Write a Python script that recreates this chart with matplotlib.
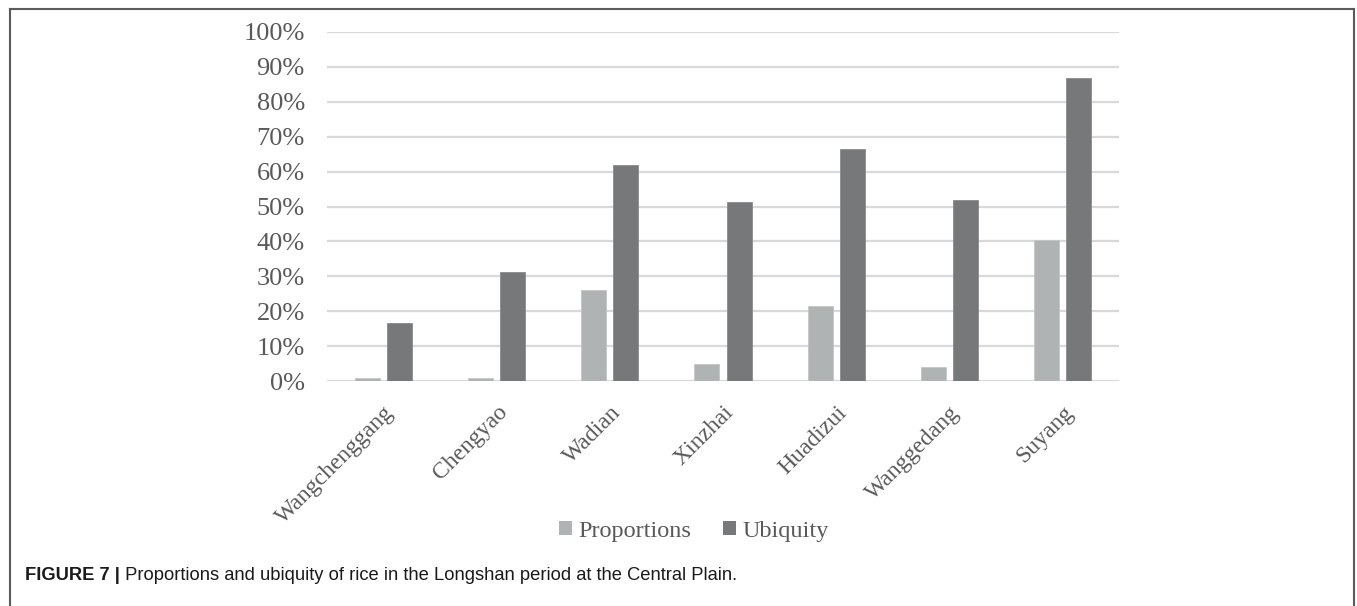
"""
Grouped bar chart of rice proportions and ubiquity at Longshan sites.
"""

import numpy as np
import matplotlib
matplotlib.use("Agg")
import matplotlib.pyplot as plt
from matplotlib.lines import Line2D
from matplotlib.patches import Patch
from matplotlib.ticker import FuncFormatter

sites = ["Wangchenggang", "Chengyao", "Wadian", "Xinzhai",
         "Huadizui", "Wanggedang", "Suyang"]
proportions = [0.9, 0.9, 26.0, 4.9, 21.5, 3.9, 40.4]
ubiquity = [16.5, 31.1, 61.8, 51.3, 66.5, 51.9, 86.7]
series_names = ["Proportions", "Ubiquity"]
caption_bold = "FIGURE 7 |"
caption_text = " Proportions and ubiquity of rice in the Longshan period at the Central Plain."

light_grey = "#b0b3b3"
dark_grey = "#77787a"
text_grey = "#595959"

W, H = 1357, 606
fig = plt.figure(figsize=(W / 100, H / 100), dpi=100)
ax = fig.add_axes([327 / W, 1 - 381 / H, (1119 - 327) / W, (381 - 32) / H])

x = np.arange(len(sites))
bw = 0.221
off = 0.142
ax.bar(x - off, proportions, bw, color=light_grey, edgecolor="#c4c6c6",
       linewidth=0.6, zorder=3)
ax.bar(x + off, ubiquity, bw, color=dark_grey, edgecolor="#8a8b8d",
       linewidth=0.6, zorder=3)

ax.set_xlim(-0.5, len(sites) - 0.5)
ax.set_ylim(0, 100)
ax.set_yticks(np.arange(0, 101, 10))
ax.yaxis.set_major_formatter(FuncFormatter(lambda v, p: f"{v:.0f}%"))
ax.grid(axis="y", color="#d9d9d9", linewidth=1.6, zorder=0)
for s in ax.spines.values():
    s.set_visible(False)
ax.tick_params(axis="both", length=0)
ax.tick_params(axis="y", pad=16, labelsize=19, labelcolor=text_grey)

ax.set_xticks(x)
ax.set_xticklabels(sites, rotation=45, ha="right", rotation_mode="anchor",
                   fontsize=17, color=text_grey)
ax.tick_params(axis="x", pad=15)
for lab in ax.get_xticklabels() + ax.get_yticklabels():
    lab.set_family("Liberation Serif")

handles = [Patch(facecolor=light_grey), Patch(facecolor=dark_grey)]
fig.legend(handles, series_names, loc="center", bbox_to_anchor=(694 / W, 1 - 531 / H),
           ncol=2, frameon=False, handlelength=0.55, handleheight=0.55,
           handletextpad=0.25, columnspacing=1.3,
           prop={"family": "Liberation Serif", "size": 17.5}, labelcolor=text_grey)

# caption beneath the plot
t = fig.text(25 / W, 1 - 576 / H, caption_bold, fontsize=13.2, fontweight="bold",
             family="Liberation Sans", va="center", ha="left", color="#1a1a1a")
fig.canvas.draw()
bb = t.get_window_extent()
fig.text(bb.x1 / W, 1 - 576 / H, caption_text, fontsize=13.2,
         family="Liberation Sans", va="center", ha="left", color="#1a1a1a")

# open frame around the figure panel
fc = "#5a5a5a"
fig.add_artist(Line2D([9.5 / W, 1353.5 / W], [1 - 8.5 / H, 1 - 8.5 / H], color=fc, lw=1.5))
fig.add_artist(Line2D([9.5 / W, 9.5 / W], [0, 1 - 8.5 / H], color=fc, lw=1.5))
fig.add_artist(Line2D([1353.5 / W, 1353.5 / W], [0, 1 - 8.5 / H], color=fc, lw=1.5))

fig.savefig("out.png", dpi=100)
